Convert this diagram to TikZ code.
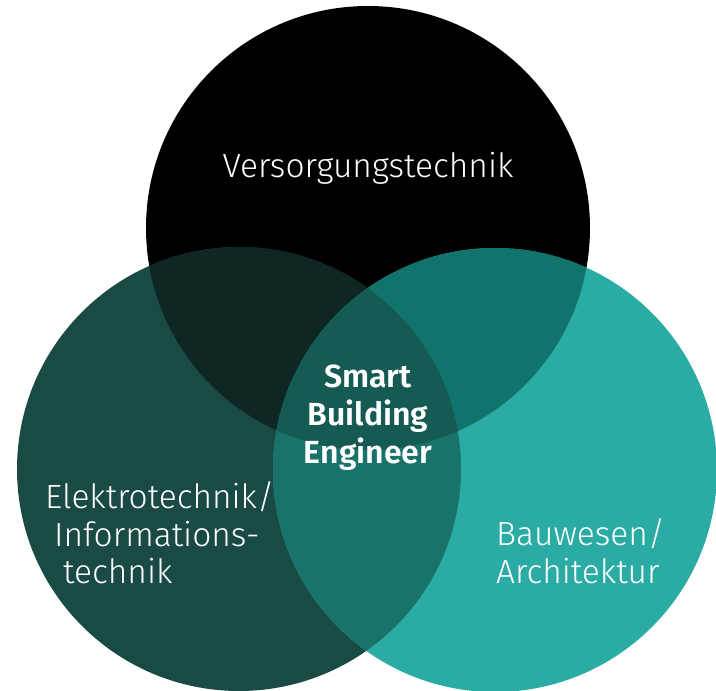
\documentclass[tikz,border=0pt]{standalone}
\usepackage{fontspec}
\setmainfont{Fira Sans}[UprightFont=* Light,BoldFont=* SemiBold]
\usetikzlibrary{positioning}
\definecolor{topc}{HTML}{000000}
\definecolor{lftc}{HTML}{1A4A44}
\definecolor{rgtc}{HTML}{2AABA3}
\definecolor{toplftc}{HTML}{0F2724}
\definecolor{toprgtc}{HTML}{10736C}
\definecolor{lftrgtc}{HTML}{19736B}
\definecolor{allc}{HTML}{165A54}

\begin{document}
\begin{tikzpicture}[x=1pt,y=1pt,inner sep=0pt]
\tikzstyle{every node}=[text=white,font=\fontsize{33.5}{37.5}\selectfont]
\tikzstyle{mid}=[font=\bfseries\fontsize{32}{38}\selectfont,align=center]
\tikzstyle{side}=[align=left,anchor=west]
\def\rad{222}
\useasboundingbox (0,0) rectangle (716,691);
\coordinate (top) at (368,463);
\coordinate (lft) at (239,222);
\coordinate (rgt) at (495,221);
% the three circles
\fill[topc] (top) circle (\rad);
\fill[lftc] (lft) circle (\rad);
\fill[rgtc] (rgt) circle (\rad);
% overlaps
\begin{scope}
  \clip (top) circle (\rad);
  \fill[toplftc] (lft) circle (\rad);
  \fill[toprgtc] (rgt) circle (\rad);
\end{scope}
\begin{scope}
  \clip (lft) circle (\rad);
  \fill[lftrgtc] (rgt) circle (\rad);
  \clip (top) circle (\rad);
  \fill[allc] (rgt) circle (\rad);
\end{scope}
\node (vt) at (368,523) {Versorgungstechnik};
\node[mid] (sbe) at (368,273) {Smart\\Building\\Engineer};
\node[side] (et) at (45,158) {Elektrotechnik/\\\hspace{9pt}Informations-\\\hspace{18pt}technik};
\node[side] (ba) at (496,140) {Bauwesen/\\Architektur};
\end{tikzpicture}
\end{document}
